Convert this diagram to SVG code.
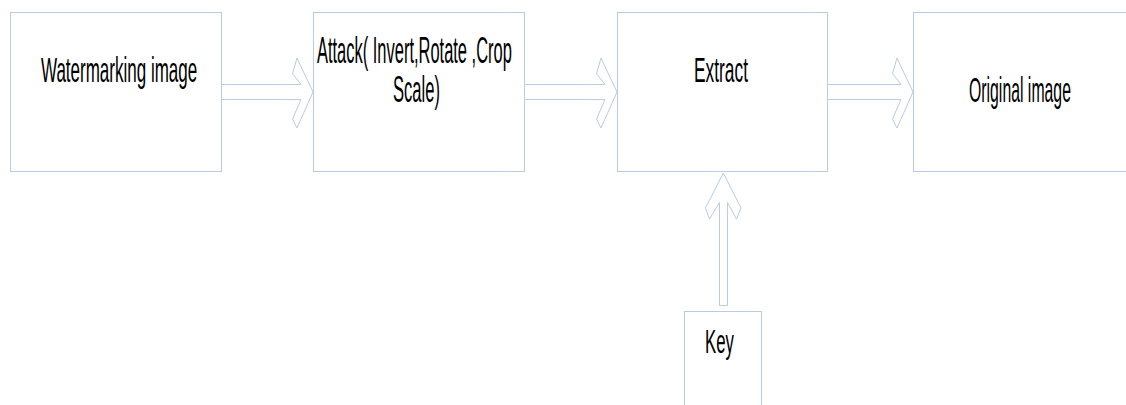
<svg xmlns="http://www.w3.org/2000/svg" width="1126" height="405" viewBox="0 0 1126 405">
  <style>
    .box { fill: #ffffff; stroke: #b8cce4; stroke-width: 1; }
    .arrow { fill: #ffffff; stroke: #b8cce4; stroke-width: 1; stroke-linejoin: miter; }
    .label { font-family: "Liberation Sans", Arial, sans-serif; font-size: 35px; fill: #000000; }
    .big { font-size: 37px; }
    .small { font-size: 34px; }
  </style>
  <rect x="0" y="0" width="1126" height="405" fill="#ffffff"/>

  <g id="node-watermarking">
    <rect class="box" x="10.5" y="12.5" width="211" height="159"/>
    <text class="label" transform="translate(41,82) scale(0.486,1)">Watermarking image</text>
  </g>

  <g id="node-attack">
    <rect class="box" x="313.5" y="12.5" width="211" height="159"/>
    <text class="label big" transform="translate(317,63) scale(0.445,1)">Attack( Invert,Rotate ,Crop</text>
    <text class="label big" transform="translate(393,101.5) scale(0.448,1)">Scale)</text>
  </g>

  <g id="node-extract">
    <rect class="box" x="617.5" y="12.5" width="210" height="159"/>
    <text class="label" transform="translate(694,82) scale(0.496,1)">Extract</text>
  </g>

  <g id="node-original">
    <rect class="box" x="913.5" y="12.5" width="230" height="159"/>
    <text class="label" transform="translate(969,101.5) scale(0.452,1)">Original image</text>
  </g>

  <g id="node-key">
    <rect class="box" x="684.5" y="311.5" width="77" height="110"/>
    <text class="label small" transform="translate(705,353) scale(0.495,1)">Key</text>
  </g>

  <g id="connectors">
    <!-- watermarking -> attack -->
    <polygon class="arrow" points="221.5,84.5 301,84.5 292.5,73.5 297,58 313,92 297,128 292.5,119 301,99.5 221.5,99.5"/>
    <!-- attack -> extract -->
    <polygon class="arrow" points="524.5,84.5 605,84.5 596.5,73.5 601,58 617,92 601,128 596.5,119 605,99.5 524.5,99.5"/>
    <!-- extract -> original -->
    <polygon class="arrow" points="827.5,84.5 901,84.5 892.5,73.5 897,58 913,92 897,128 892.5,119 901,99.5 827.5,99.5"/>
    <!-- key -> extract -->
    <polygon class="arrow" points="719.5,305.5 719.5,202.5 709.5,219 705.5,208 723.3,173 741,208 736.5,219 727.5,202.5 727.5,305.5"/>
  </g>
</svg>
